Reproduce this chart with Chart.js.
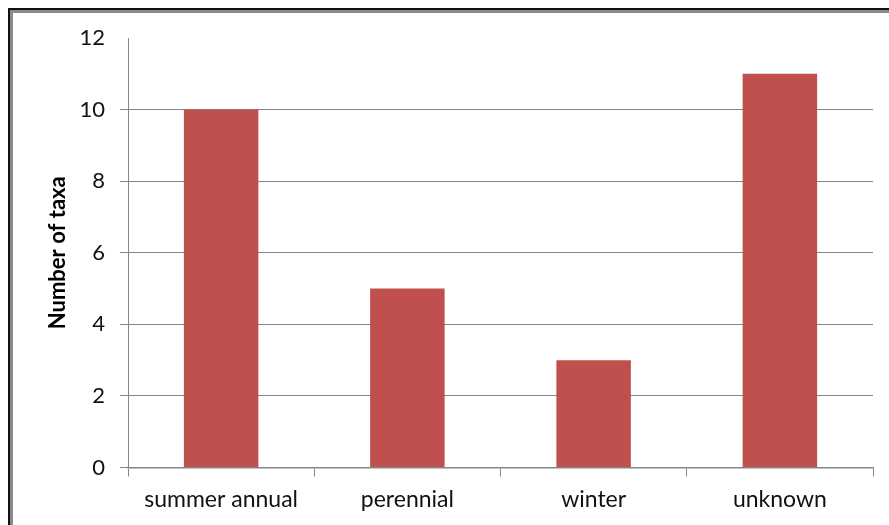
<!DOCTYPE html>
<html>
<head>
<meta charset="utf-8">
<script src="https://cdn.jsdelivr.net/npm/chart.js@4/dist/chart.umd.min.js"></script>
<style>
  html, body { margin: 0; padding: 0; background: #fff; }
  #wrap { width: 889px; height: 525px; position: relative; }
</style>
</head>
<body>
<div id="wrap"><canvas id="c" width="889" height="525"></canvas></div>
<script>
const categories = ['summer annual', 'perennial', 'winter', 'unknown'];
const taxaCounts = [10, 5, 3, 11];
const yTicks = [0, 2, 4, 6, 8, 10, 12];

const lineGray = '#868686';
const fontFamily = 'Lato, "Open Sans", sans-serif';

// Frame around the chart: dark outer edge with a gray inner band
const framePlugin = {
  id: 'frame',
  beforeDraw(chart) {
    const ctx = chart.ctx;
    ctx.save();
    ctx.fillStyle = '#fff';
    ctx.fillRect(0, 0, chart.width, chart.height);
    ctx.fillStyle = '#111';
    ctx.fillRect(8, 8, chart.width, 2);
    ctx.fillRect(8, 8, 2, chart.height);
    ctx.fillStyle = '#8a8a8a';
    ctx.fillRect(10, 10, chart.width, 3);
    ctx.fillRect(10, 10, 3, chart.height);
    ctx.restore();
  }
};

new Chart(document.getElementById('c'), {
  type: 'bar',
  data: {
    labels: categories,
    datasets: [{
      data: taxaCounts,
      backgroundColor: '#C0504D',
      borderWidth: 0,
      categoryPercentage: 1.0,
      barPercentage: 0.4
    }]
  },
  options: {
    responsive: false,
    animation: false,
    layout: { padding: { left: 0, top: 38, right: 16, bottom: 0 } },
    plugins: { legend: { display: false }, tooltip: { enabled: false } },
    scales: {
      x: {
        grid: {
          drawOnChartArea: false,
          drawTicks: true,
          tickLength: 9,
          color: lineGray,
          lineWidth: 1
        },
        border: { color: lineGray, width: 1.5 },
        ticks: {
          color: '#111',
          padding: 9,
          font: { family: fontFamily, size: 23 }
        },
        afterFit(s) { s.height = 57.5; }
      },
      y: {
        min: 0,
        max: 12,
        afterBuildTicks(s) { s.ticks = yTicks.map(v => ({ value: v })); },
        grid: {
          color: ctx => (ctx.tick && ctx.tick.value === 12 ? 'rgba(0,0,0,0)' : lineGray),
          lineWidth: 1,
          tickLength: 8
        },
        border: { color: lineGray, width: 1 },
        ticks: {
          color: '#111',
          padding: 15,
          font: { family: fontFamily, size: 22 }
        },
        title: {
          display: true,
          text: 'Number of taxa',
          color: '#000',
          padding: { top: 45, bottom: 0 },
          font: { family: fontFamily, size: 22, weight: 'bold' }
        },
        afterFit(s) { s.width = 128; }
      }
    }
  },
  plugins: [framePlugin]
});
</script>
</body>
</html>
